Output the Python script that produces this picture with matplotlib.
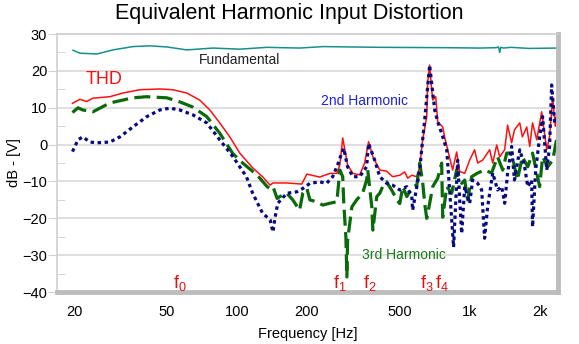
import matplotlib
matplotlib.use("Agg")
import matplotlib.pyplot as plt
from matplotlib.ticker import FixedLocator, FuncFormatter, NullLocator

plt.rcParams['font.family'] = ['Liberation Sans', 'DejaVu Sans']
plt.rcParams['mathtext.fontset'] = 'custom'
plt.rcParams['mathtext.rm'] = 'Liberation Sans'

# ---- data (Hz, dB) ----
fund_f = [19.8, 21.2, 25.1, 29.4, 35.8, 42.3, 50.1, 61, 79, 103, 135, 186, 235,
          411, 800, 1104, 1300, 1330, 1346, 1360, 1400, 1500, 1800, 2361]
fund_db = [25.6, 24.8, 24.6, 25.7, 26.6, 26.8, 26.5, 25.7, 26.2, 25.9, 26.4, 26.2, 26.6,
           26.4, 26.3, 26.2, 26.3, 26.5, 25.0, 26.4, 26.2, 26.4, 26.1, 26.2]

thd_f = [19.7, 21.2, 22.7, 24.1, 28.5, 32.4, 38.4, 46.7, 53.1, 61.0, 69.3, 76.6,
         84.5, 93.3, 103, 117, 129, 139, 143, 164, 190, 200, 227, 251, 269, 277,
         285, 299, 315, 337, 354, 368, 384, 411, 440, 467, 501, 526, 542, 564, 593,
         610, 628, 654, 660, 673, 687, 694, 715, 729, 766, 781, 805, 845, 879, 906,
         952, 1000, 1050, 1082, 1137, 1218, 1256, 1306, 1346, 1413, 1455, 1514, 1557,
         1641, 1684, 1758, 1811, 1862, 1941, 2037, 2142, 2203, 2272, 2330, 2387]
thd_db = [11.2, 12.3, 11.7, 12.6, 13.0, 14.0, 14.9, 15.1, 14.9, 14.0, 12.1, 9.4,
          5.9, 2.1, -2.3, -6.3, -8.7, -11.0, -10.4, -10.4, -10.7, -8.0, -8.8, -7.8, -7.8, -5.5,
          1.8, -5.5, -7.8, -8.2, -5.0, 0.8, -3.3, -6.9, -7.2, -8.7, -8.3, -7.4, -9.1, -8.3, -8.7,
          -6.0, 1.3, 7.6, 16.8, 21.6, 14.9, 12.1, 13.0, 6.2, 4.8, 2.0, -1.4, -6.9, -2.0, -7.3,
          -7.8, -4.2, -1.4, -5.0, -4.2, -1.4, -5.0, -0.1, -3.3, -1.4, 5.3, 0.5, 4.0,
          5.9, 2.1, 4.8, -0.5, 5.9, 1.3, 8.9, -1.4, 2.1, 12.9, 5.0, 10.2]

h2_f = [19.7, 20.8, 21.8, 23.4, 25.1, 28.5, 31.5, 35.8, 41.1, 46.7, 51.6, 56.9,
        64.7, 74.3, 84.5, 96.1, 110, 117, 129, 139, 143, 146, 150, 164, 181, 192,
        206, 227, 243, 258, 271, 282, 288, 299, 315, 337, 361, 368, 391, 411, 440,
        467, 501, 537, 564, 569, 593, 610, 628, 641, 673, 694, 708, 729, 758, 797,
        820, 853, 888, 906, 924, 952, 1000, 1030, 1082, 1126, 1159, 1194, 1256, 1317,
        1372, 1413, 1455, 1514, 1557, 1641, 1722, 1775, 1845, 1862, 1920, 1997, 2057,
        2142, 2203, 2249, 2317, 2387]
h2_db = [-1.9, 1.3, 2.1, 0.7, 0.5, 0.7, 2.1, 4.8, 7.6, 9.4, 9.9, 9.4,
         8.1, 5.9, 1.3, -3.2, -8.7, -13.2, -18.6, -20.4, -23.7, -19.7, -15.9, -13.2, -12.8, -11.9,
         -10.5, -10.1, -10.5, -8.7, -5.5, -2.3, -1.0, -6.0, -8.7, -8.7, -6.0, 0.3, -4.2, -8.7, -10.5,
         -11.0, -12.3, -11.4, -14.1, -17.8, -11.4, -6.9, 1.3, 6.7, 21.6, 14.0, 9.4, 6.2, 3.1, -1.4,
         -12.3, -27.8, -4.2, -15.0, -24.1, -11.4, -15.9, -9.6, -10.5, -12.3, -25.4, -16.9, -7.7, -12.3,
         -11.4, -15.9, -7.7, -0.5, -9.6, -1.4, -6.0, -11.4, -9.6, -22.3, -6.9, 2.1, 7.6,
         -6.9, -0.5, 16.2, 5.9, 7.6]

h3_f = [19.7, 20.8, 21.8, 24.1, 28.5, 35.8, 41.1, 50.1, 56.9, 64.7, 74.3, 84.5,
        96.1, 106, 122, 135, 139, 143, 149, 153, 164, 174, 186, 192, 200, 206, 220,
        234, 251, 269, 277, 285, 288, 294, 297, 299, 312, 327, 347, 361, 365, 380,
        384, 399, 411, 423, 440, 467, 486, 501, 516, 537, 552, 569, 593, 610, 628,
        641, 654, 673, 694, 729, 758, 766, 797, 837, 879, 924, 952, 980, 1020, 1082,
        1159, 1242, 1317, 1387, 1442, 1514, 1602, 1684, 1775, 1862, 1997, 2057, 2163,
        2272, 2361]
h3_db = [8.7, 10.0, 9.4, 8.9, 11.3, 12.7, 13.0, 12.7, 11.6, 10.2, 7.6, 3.1,
         -2.4, -5.0, -8.2, -11.4, -11.9, -11.4, -14.6, -14.1, -13.2, -15.0, -17.8, -13.2, -11.9, -15.0, -15.5,
         -16.4, -15.9, -15.5, -6.9, -8.7, -15.9, -25.0, -35.9, -26.0, -16.9, -15.0, -13.2, -9.6, -6.9, -16.9,
         -23.2, -14.1, -13.2, -11.4, -10.1, -12.8, -15.0, -16.0, -11.4, -14.1, -12.8, -11.4, -11.0, -5.0, -10.1,
         -16.0, -20.0, -16.0, -11.4, -9.1, -5.0, -19.7, -11.4, -13.2, -6.9, -10.5, -9.6, -15.0, -8.7, -7.7,
         -6.9, -7.7, -3.3, -6.9, -2.3, -2.3, -9.6, -3.3, -6.0, -2.3, -11.4, -3.3, -6.0,
         -4.2, 1.3]

xtick_vals = [20, 50, 100, 200, 500, 1000, 2000]
xtick_text = ['20', '50', '100', '200', '500', '1k', '2k']
markers = [('0', 56.9), ('1', 278), ('2', 372), ('3', 654), ('4', 760)]

fig = plt.figure(figsize=(5.79, 3.44), dpi=100)
ax = fig.add_axes([0.0984, 0.151, 0.865, 0.750])

ax.plot(fund_f, fund_db, color='#168f8f', lw=1.1)
ax.plot(thd_f, thd_db, color='#ff1010', lw=1.1)
ax.plot(h3_f, h3_db, color='#0a6a0a', lw=2.3, linestyle=(0, (5, 2)))
ax.plot(h2_f, h2_db, color='#0a0a80', lw=2.3, linestyle=(0, (1.1, 1.1)))

ax.set_xscale('log')
ax.set_xlim(16.9, 2390)
ax.set_ylim(-40, 30)

ax.xaxis.set_major_locator(FixedLocator(xtick_vals))
ax.xaxis.set_major_formatter(FuncFormatter(lambda v, p: xtick_text[xtick_vals.index(round(v))] if round(v) in xtick_vals else ''))
ax.xaxis.set_minor_locator(NullLocator())
ax.tick_params(axis='x', length=0, labelsize=10.5, pad=9)

ax.set_yticks(range(-40, 31, 10))
ax.set_yticks(range(-35, 30, 10), minor=True)
ax.tick_params(axis='y', which='major', length=6.5, color='#d0d0d0', labelsize=10.5, pad=0.5)
ax.tick_params(axis='y', which='minor', length=6, color='#d0d0d0', direction='in')
ax.grid(axis='y', which='major', color='#d9d9d9', lw=1.2)
ax.set_axisbelow(True)

for s in ['left', 'top']:
    ax.spines[s].set_color('#d0d0d0')
    ax.spines[s].set_linewidth(1.2)
for s in ['right', 'bottom']:
    ax.spines[s].set_color('#bdbdbd')
    ax.spines[s].set_linewidth(3.5)

ax.set_xlabel('Frequency [Hz]', fontsize=10.5, labelpad=6)
ax.set_ylabel('dB - [V]', fontsize=10.5, labelpad=1)
fig.suptitle('Equivalent Harmonic Input Distortion', fontsize=15.5, y=0.99)

ax.text(103, 23.0, 'Fundamental', color='#222222', fontsize=10, ha='center', va='center')
ax.text(22.5, 17.6, 'THD', color='#ff1010', fontsize=13, ha='left', va='center')
ax.text(354, 11.9, '2nd Harmonic', color='#2020e0', fontsize=10, ha='center', va='center')
ax.text(520, -30.0, '3rd Harmonic', color='#1a7a1a', fontsize=10, ha='center', va='center')
for sub, f in markers:
    ax.text(f, -40.2, 'f$_\\mathregular{' + sub + '}$', color='#e01010', fontsize=13,
            ha='center', va='bottom')

fig.savefig('out.png', dpi=100)
